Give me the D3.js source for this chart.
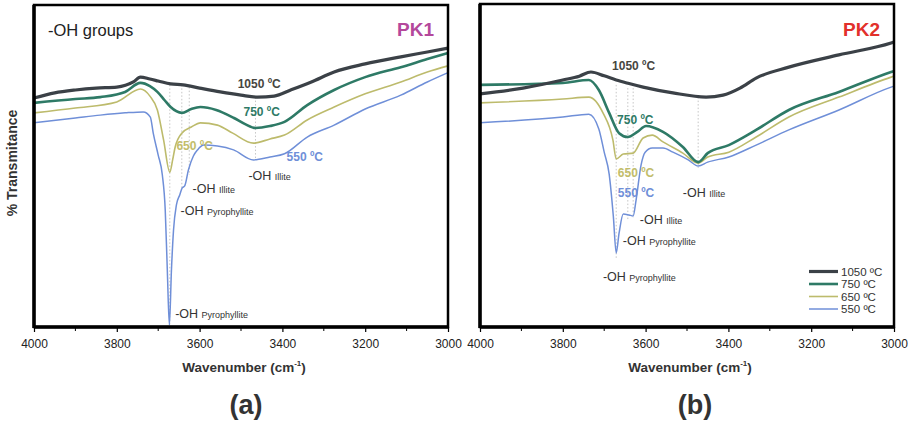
<!DOCTYPE html>
<html>
<head>
<meta charset="utf-8">
<script src="https://cdn.jsdelivr.net/npm/d3@7"></script>
<style>
  body { margin: 0; background: #fff; }
  svg { font-family: "Liberation Sans", Arial, sans-serif; }
</style>
</head>
<body>
<div id="chart"></div>
<script>
// temperatures, drawn from top curve to bottom
const temps = ["1050 ºC", "750 ºC", "650 ºC", "550 ºC"];
const colors = ["#3b4147", "#2e7a66", "#bdbb6c", "#6f8fd8"];
const widths = [3.2, 2.6, 1.6, 1.5];

// PK1 spectra: [wavenumber, transmittance (a.u.)]
const pk1_1050 = [[4000,71.1],[3950,72.7],[3900,73.6],[3850,74.2],[3800,74.5],[3760,76.1],[3743,77.6],[3720,77.0],[3700,76.4],[3670,75.5],[3640,75.2],[3600,74.2],[3550,73.0],[3500,72.0],[3460,71.4],[3420,71.7],[3380,73.6],[3330,76.1],[3275,79.2],[3200,81.7],[3114,83.9],[3050,85.4],[3000,86.6]];
const pk1_750 = [[4000,69.6],[3900,70.8],[3840,71.4],[3780,73.0],[3743,75.8],[3720,74.8],[3702,73.0],[3685,70.5],[3670,68.3],[3643,66.5],[3620,67.7],[3598,68.3],[3560,67.4],[3517,64.9],[3490,63.0],[3465,61.8],[3430,62.4],[3395,63.7],[3340,68.9],[3275,73.6],[3200,77.6],[3114,80.7],[3050,83.2],[3000,85.1]];
const pk1_650 = [[4000,66.5],[3900,68.0],[3800,69.9],[3743,73.9],[3720,71.7],[3702,67.4],[3687,58.1],[3672,48.1],[3665,52.0],[3659,55.9],[3643,60.2],[3620,62.1],[3598,63.4],[3557,62.7],[3520,60.2],[3470,57.1],[3430,58.4],[3395,59.6],[3340,64.3],[3275,68.3],[3200,72.4],[3114,76.1],[3050,79.2],[3000,81.1]];
const pk1_550 = [[4000,63.4],[3900,64.9],[3840,65.8],[3780,66.5],[3736,66.8],[3719,65.2],[3712,60.2],[3700,53.4],[3690,47.2],[3683,36.3],[3678,17.7],[3673,0.6],[3668,17.7],[3663,30.1],[3656,37.9],[3648,41.0],[3642,43.2],[3636,43.8],[3627,48.8],[3615,53.1],[3605,55.0],[3590,56.5],[3557,56.2],[3518,55.0],[3470,51.9],[3430,52.8],[3395,53.8],[3340,59.0],[3275,62.7],[3200,67.7],[3114,72.0],[3050,76.1],[3000,79.0]];

// PK2 spectra
const pk2_1050 = [[4000,72.4],[3896,74.2],[3800,76.7],[3760,77.9],[3732,79.2],[3700,78.0],[3671,76.7],[3640,75.6],[3606,74.5],[3534,72.7],[3454,71.4],[3413,72.0],[3372,74.2],[3333,77.3],[3254,80.7],[3133,84.5],[3007,88.2],[3000,88.5]];
const pk2_750 = [[4000,75.2],[3800,75.8],[3737,76.7],[3713,73.6],[3688,66.5],[3664,60.2],[3643,59.0],[3620,60.6],[3599,62.4],[3558,60.6],[3510,55.9],[3473,51.2],[3450,54.0],[3399,56.5],[3333,61.2],[3254,67.4],[3133,73.0],[3007,79.2],[3000,79.5]];
const pk2_650 = [[4000,69.6],[3800,70.8],[3737,71.4],[3703,66.5],[3679,58.1],[3671,52.2],[3654,53.7],[3630,54.0],[3606,58.7],[3584,59.6],[3558,57.5],[3510,54.0],[3473,50.9],[3450,52.8],[3399,54.3],[3333,59.0],[3254,65.2],[3133,71.4],[3007,77.6],[3000,77.9]];
const pk2_550 = [[4000,63.4],[3800,65.2],[3737,66.1],[3713,61.5],[3700,54.3],[3688,47.5],[3678,34.5],[3671,23.0],[3664,29.2],[3654,35.1],[3640,34.8],[3630,34.5],[3623,39.4],[3611,50.3],[3601,54.3],[3584,55.6],[3558,55.6],[3534,54.3],[3497,51.9],[3473,50.0],[3450,51.2],[3399,52.8],[3333,56.5],[3254,61.2],[3133,67.4],[3007,74.5],[3000,74.8]];

// dotted band markers: [wavenumber, from, to]
const pk1_marks = [[3672,75.2,0.6],[3643,75.2,42.5],[3625,74.5,47.2],[3465,71.4,51.9]];
const pk2_marks = [[3671,75.2,21.4],[3643,74.2,33.2],[3630,74.2,33.9],[3473,71.4,49.4]];

// labels: [text, sub, wavenumber, transmittance, series index or -1]
const pk1_labels = [
  ["1050 ºC", null, 3508, 74.2, 0], ["750 ºC", null, 3494, 65.5, 1],
  ["650 ºC", null, 3656, 55.0, 2], ["550 ºC", null, 3390, 51.6, 3],
  ["-OH ", "Illite", 3482, 45.7, -1], ["-OH ", "Illite", 3617, 41.6, -1],
  ["-OH ", "Pyrophyllite", 3646, 34.8, -1], ["-OH ", "Pyrophyllite", 3659, 2.8, -1]
];
const pk2_labels = [
  ["1050 ºC", null, 3681, 79.8, 0], ["750 ºC", null, 3669, 63.0, 1],
  ["650 ºC", null, 3667, 46.6, 2], ["550 ºC", null, 3667, 40.4, 3],
  ["-OH ", "Illite", 3510, 40.4, -1], ["-OH ", "Illite", 3614, 32.0, -1],
  ["-OH ", "Pyrophyllite", 3655, 25.5, -1], ["-OH ", "Pyrophyllite", 3703, 14.3, -1]
];

const xTicks = [4000, 3800, 3600, 3400, 3200, 3000];
const xMinor = [3900, 3700, 3500, 3300, 3100];

const width = 912, height = 424;
const svg = d3.select("#chart").append("svg")
  .attr("width", width).attr("height", height);

const labelColors = ["#47463f", "#2e7a66", "#c2bd6a", "#6f8fd8"];

function drawPanel(p) {
  const g = svg.append("g");
  const x = d3.scaleLinear().domain([4000, 3000]).range([p.left, p.right]);
  const y = d3.scaleLinear().domain([0, 100]).range([327, 5]);

  // dotted markers
  g.selectAll(".mark").data(p.marks).join("line")
    .attr("x1", d => x(d[0])).attr("x2", d => x(d[0]))
    .attr("y1", d => y(d[1])).attr("y2", d => y(d[2]))
    .attr("stroke", "#b8b8b8").attr("stroke-width", 0.8)
    .attr("stroke-dasharray", "1.5,2");

  const line = d3.line()
    .x(d => x(d[0])).y(d => y(d[1]))
    .curve(d3.curveMonotoneX);

  // draw bottom series first so the dark one sits on top
  p.series.map((s, i) => ({ s, i })).reverse().forEach(({ s, i }) => {
    g.append("path").datum(s)
      .attr("fill", "none")
      .attr("stroke", colors[i])
      .attr("stroke-width", widths[i])
      .attr("stroke-linejoin", "round")
      .attr("d", line);
  });

  // labels
  p.labels.forEach(l => {
    const t = g.append("text")
      .attr("x", x(l[2])).attr("y", y(l[3]));
    if (l[4] >= 0) {
      t.text(l[0]).attr("font-size", 12).attr("font-weight", "bold")
        .attr("fill", labelColors[l[4]]);
    } else {
      t.attr("fill", "#333").attr("font-size", 12.5);
      t.append("tspan").text(l[0]);
      t.append("tspan").text(l[1]).attr("font-size", 9);
    }
  });

  // frame
  g.append("rect")
    .attr("x", p.left).attr("y", p.top)
    .attr("width", p.right - p.left).attr("height", 327 - p.top)
    .attr("fill", "none").attr("stroke", "#000").attr("stroke-width", 2.5);

  // x axis
  const ax = g.append("g").attr("transform", "translate(0,327)")
    .call(d3.axisBottom(x).tickValues(xTicks).tickSize(5).tickFormat(d3.format("d")));
  ax.select(".domain").attr("stroke-width", 3.5).attr("d", `M${p.left},0H${p.right}`);
  ax.selectAll(".tick line").attr("stroke-width", 1.2);
  ax.selectAll(".tick text").attr("font-size", 12).attr("fill", "#222")
    .attr("font-family", "Liberation Sans, Arial, sans-serif").attr("dy", "1.05em");
  g.selectAll(".minor").data(xMinor).join("line")
    .attr("x1", d => x(d)).attr("x2", d => x(d))
    .attr("y1", 328).attr("y2", 331)
    .attr("stroke", "#000").attr("stroke-width", 1);

  // left spine thicker
  g.append("line").attr("x1", p.left).attr("x2", p.left)
    .attr("y1", p.top).attr("y2", 328)
    .attr("stroke", "#000").attr("stroke-width", 3.5);

  g.append("text")
    .attr("x", (p.left + p.right) / 2 + 3).attr("y", 372)
    .attr("text-anchor", "middle").attr("font-size", 13.5).attr("font-weight", "bold")
    .attr("fill", "#333")
    .text("Wavenumber (cm")
    .append("tspan").text("-1").attr("font-size", 8).attr("dy", -6)
    .select(function () { return this.parentNode; })
    .append("tspan").text(")").attr("dy", 6);

  g.append("text")
    .attr("x", p.tagX).attr("y", 414)
    .attr("text-anchor", "middle").attr("font-size", 27).attr("font-weight", "bold")
    .attr("fill", "#333").text(p.tag);

  g.append("text")
    .attr("x", p.right - 14).attr("y", 36)
    .attr("text-anchor", "end").attr("font-size", 19).attr("font-weight", "bold")
    .attr("fill", p.nameColor).text(p.name);

  return { g, x, y };
}

const a = drawPanel({
  left: 34, right: 448, top: 5, tag: "(a)", tagX: 246, name: "PK1", nameColor: "#b4489b",
  series: [pk1_1050, pk1_750, pk1_650, pk1_550], marks: pk1_marks, labels: pk1_labels
});
a.g.append("text").attr("x", 48).attr("y", 36)
  .attr("font-size", 16.5).attr("fill", "#222").text("-OH groups");

const b = drawPanel({
  left: 480, right: 894, top: 4, tag: "(b)", tagX: 695, name: "PK2", nameColor: "#e2302b",
  series: [pk2_1050, pk2_750, pk2_650, pk2_550], marks: pk2_marks, labels: pk2_labels
});

// legend
const legY = [271.5, 284, 296.5, 309];
const leg = b.g.append("g");
temps.forEach((t, i) => {
  leg.append("line").attr("x1", 809).attr("x2", 838)
    .attr("y1", legY[i]).attr("y2", legY[i])
    .attr("stroke", colors[i]).attr("stroke-width", widths[i]);
  leg.append("text").attr("x", 841).attr("y", legY[i])
    .attr("dy", "0.36em").attr("font-size", 11.5).attr("fill", "#333").text(t);
});

// y axis title
svg.append("text")
  .attr("transform", "translate(17,163) rotate(-90)")
  .attr("text-anchor", "middle").attr("font-size", 14).attr("font-weight", "bold")
  .attr("fill", "#333").text("% Transmitance");
</script>
</body>
</html>
